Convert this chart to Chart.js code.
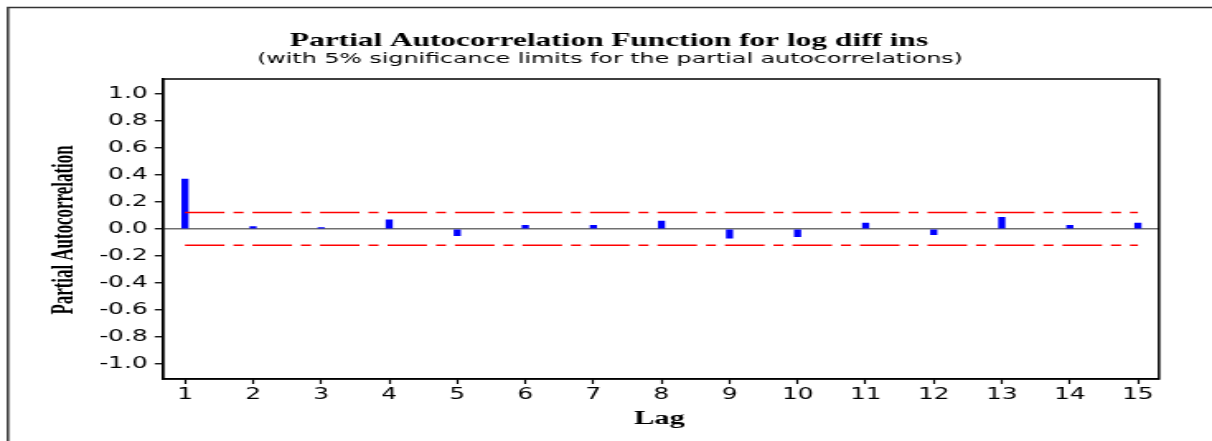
<!DOCTYPE html>
<html>
<head>
<meta charset="utf-8">
<script src="https://cdn.jsdelivr.net/npm/chart.js@4.4.1/dist/chart.umd.min.js"></script>
<style>
  html, body { margin: 0; padding: 0; background: #ffffff; overflow: hidden; }
  #c { display: block; }
</style>
</head>
<body>
<canvas id="c" width="735" height="441" style="width:1212px;height:441px;display:block"></canvas>
<script>
// ---- data ----
const lags = [1, 2, 3, 4, 5, 6, 7, 8, 9, 10, 11, 12, 13, 14, 15];
const pacf = [0.370, 0.017, 0.010, 0.067, -0.049, 0.027, 0.027, 0.059, -0.067, -0.057, 0.044, -0.042, 0.087, 0.027, 0.044];
const upperLimit = [0.123, 0.123];
const lowerLimit = [-0.120, -0.120];
const yTickValues = [1.0, 0.8, 0.6, 0.4, 0.2, 0.0, -0.2, -0.4, -0.6, -0.8, -1.0];
const yTickLabels = ["1.0", "0.8", "0.6", "0.4", "0.2", "0.0", "-0.2", "-0.4", "-0.6", "-0.8", "-1.0"];
const xTickLabels = ["1", "2", "3", "4", "5", "6", "7", "8", "9", "10", "11", "12", "13", "14", "15"];
const titleText = "Partial Autocorrelation Function for log diff ins";
const subtitleText = "(with 5% significance limits for the partial autocorrelations)";
const xTitle = "Lag";
const yTitle = "Partial Autocorrelation";

// ---- layout (canvas is drawn narrow and stretched horizontally, like the reference) ----
const S = 1212 / 735;
const limitEnds = [lags[0], lags[lags.length - 1]];

const decor = {
  id: 'decor',
  beforeDraw(chart) {
    const ctx = chart.ctx;
    ctx.save();
    ctx.fillStyle = '#ffffff';
    ctx.fillRect(0, 0, chart.width, chart.height);
    // outer frame (top and left)
    ctx.strokeStyle = '#333333';
    ctx.lineWidth = 1.5;
    ctx.beginPath();
    ctx.moveTo(4.85, chart.height + 2);
    ctx.lineTo(4.85, 7.5);
    ctx.lineTo(chart.width + 2, 7.5);
    ctx.stroke();
    // titles
    ctx.fillStyle = '#000000';
    ctx.textAlign = 'center';
    ctx.textBaseline = 'alphabetic';
    ctx.font = 'bold 19px "Liberation Serif"';
    ctx.fillText(titleText, 609 / S, 45.5);
    ctx.font = '14.4px "DejaVu Sans"';
    ctx.fillText(subtitleText, 610 / S, 63);
    ctx.restore();
  },
  afterDraw(chart) {
    const ctx = chart.ctx;
    const a = chart.chartArea;
    ctx.save();
    ctx.strokeStyle = '#000000';
    ctx.lineWidth = 1.5;
    ctx.strokeRect(a.left, a.top, a.right - a.left, a.bottom - a.top);
    ctx.fillStyle = '#000000';
    // x title
    ctx.textAlign = 'center';
    ctx.textBaseline = 'alphabetic';
    ctx.font = 'bold 18.5px "Liberation Serif"';
    ctx.fillText(xTitle, (a.left + a.right) / 2 - 1, 423.5);
    // y title
    ctx.translate(64 / S, 230);
    ctx.rotate(-Math.PI / 2);
    ctx.scale(0.89, 1);
    ctx.textBaseline = 'middle';
    ctx.font = 'bold 19px "Liberation Serif"';
    ctx.fillText(yTitle, 0, 0);
    ctx.restore();
  }
};

const chart = new Chart(document.getElementById('c'), {
  type: 'bar',
  data: {
    datasets: [
      {
        type: 'line',
        data: limitEnds.map((x, i) => ({ x: x, y: upperLimit[i] })),
        borderColor: '#ff0000',
        borderWidth: 1.5,
        borderDash: [39.5 / S, 9 / S, 10 / S, 9 / S],
        pointRadius: 0,
        fill: false,
        tension: 0,
        order: 0
      },
      {
        type: 'line',
        data: limitEnds.map((x, i) => ({ x: x, y: lowerLimit[i] })),
        borderColor: '#ff0000',
        borderWidth: 1.5,
        borderDash: [39.5 / S, 9 / S, 10 / S, 9 / S],
        pointRadius: 0,
        fill: false,
        tension: 0,
        order: 0
      },
      {
        type: 'bar',
        data: lags.map((x, i) => ({ x: x, y: pacf[i] })),
        backgroundColor: '#0000ff',
        borderWidth: 0,
        barThickness: 6 / S,
        order: 1
      }
    ]
  },
  options: {
    responsive: false,
    animation: false,
    devicePixelRatio: 1,
    layout: { padding: { top: 79, right: 735 - 1159 / S, bottom: 0, left: 0 } },
    plugins: { legend: { display: false }, tooltip: { enabled: false }, title: { display: false } },
    scales: {
      x: {
        type: 'linear',
        offset: false,
        min: 0.677,
        max: 15.31,
        afterBuildTicks: s => { s.ticks = lags.map(v => ({ value: v })); },
        afterFit: s => { s.height = 441 - 379; },
        ticks: {
          callback: (v, i) => xTickLabels[i],
          autoSkip: false,
          maxRotation: 0,
          color: '#000000',
          padding: 2.5,
          font: { family: 'DejaVu Sans', size: 15 }
        },
        grid: { offset: false, drawOnChartArea: false, drawTicks: true, tickLength: 5, tickColor: '#000000', tickWidth: 1.2 },
        border: { display: true, color: '#000000', width: 1.5 }
      },
      y: {
        min: -1.111,
        max: 1.111,
        afterBuildTicks: s => { s.ticks = yTickValues.map(v => ({ value: v })); },
        afterFit: s => { s.width = 163 / S; },
        ticks: {
          callback: (v, i) => yTickLabels[i],
          autoSkip: false,
          color: '#000000',
          padding: 4.4,
          font: { family: 'DejaVu Sans', size: 15 }
        },
        grid: {
          color: c => (c.tick && Math.abs(c.tick.value) < 1e-9) ? '#707070' : 'rgba(0,0,0,0)',
          lineWidth: 1.5,
          drawTicks: true,
          tickLength: 5,
          tickColor: '#000000',
          tickWidth: 1.3
        },
        border: { display: true, color: '#000000', width: 1.5 }
      }
    }
  },
  plugins: [decor]
});
chart.canvas.style.width = '1212px';
chart.canvas.style.height = '441px';
</script>
</body>
</html>
